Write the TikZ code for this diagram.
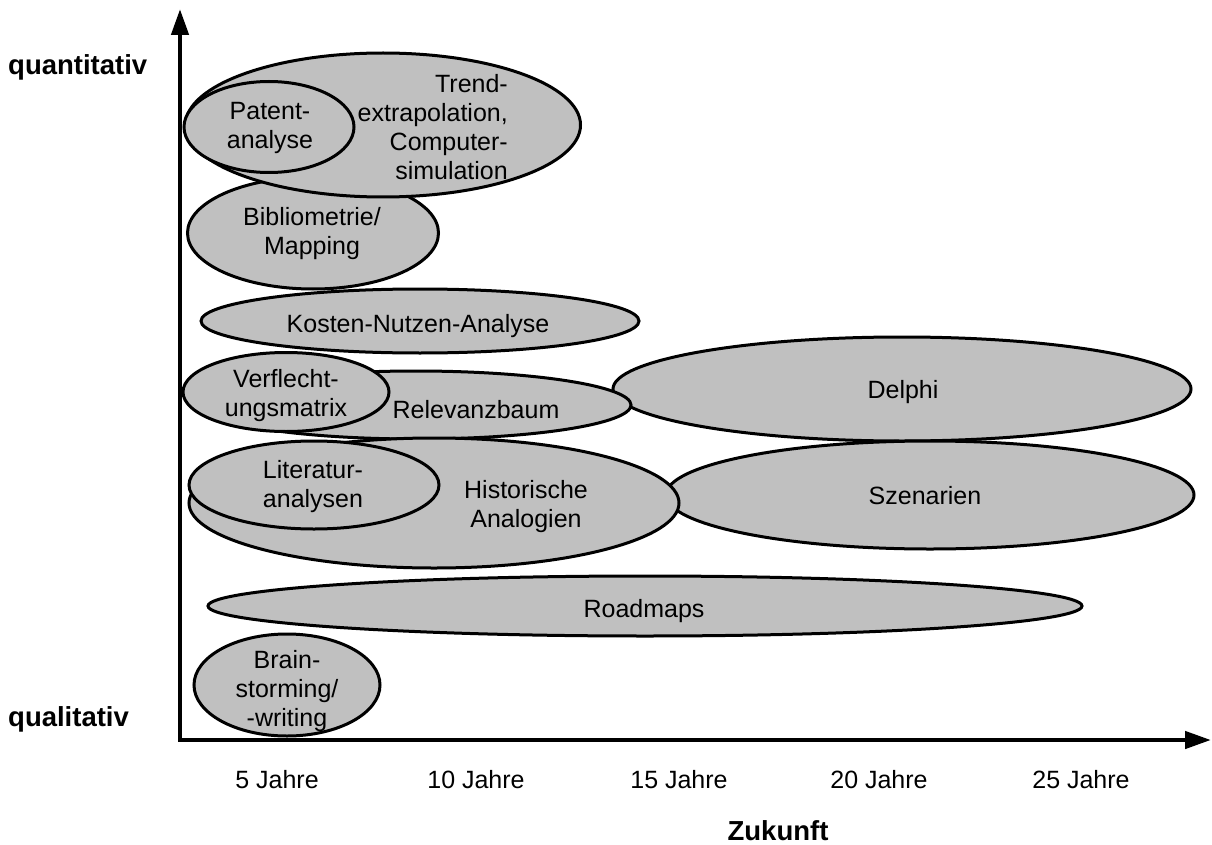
\documentclass[tikz,border=0pt]{standalone}
\usepackage{fontspec}
\setmainfont{Liberation Sans}
\usetikzlibrary{shapes.geometric,arrows.meta}
\definecolor{blobgray}{HTML}{C0C0C0}

\begin{document}
\begin{tikzpicture}[x=1pt,y=-1pt,
  blob/.style={ellipse, draw=black, line width=3pt, fill=blobgray, inner sep=0pt},
  lbl/.style={font=\fontsize{25}{29}\selectfont, align=center, inner sep=0pt},
  axislabel/.style={font=\fontsize{27.5}{32}\selectfont\bfseries, inner sep=0pt},
  axisline/.style={line width=4.5pt, {Triangle[length=26pt,width=17pt]}-{Triangle[length=26pt,width=17pt]}}
]
\useasboundingbox (0,0) rectangle (1212,845);

% axes
\coordinate (ytip) at (180,9);
\coordinate (origin) at (180,740);
\coordinate (xtip) at (1211,740);
\draw[axisline] (ytip) -- (origin) -- (xtip);

% method ellipses (back to front)
\node[blob, minimum width=578pt, minimum height=104pt] (delphi) at (902,389) {};
\node[blob, minimum width=528pt, minimum height=108pt] (szen) at (930,495) {};
\node[blob, minimum width=874pt, minimum height=60pt] (road) at (645,606) {};
\node[blob, minimum width=186pt, minimum height=102pt] (brain) at (287,685) {};
\node[blob, minimum width=251pt, minimum height=112pt] (biblio) at (313,233) {};
\node[blob, minimum width=395pt, minimum height=144pt] (trend) at (383,125) {};
\node[blob, minimum width=170pt, minimum height=91pt] (patent) at (269,127) {};
\node[blob, minimum width=438pt, minimum height=64pt] (kosten) at (420,321) {};
\node[blob, minimum width=430pt, minimum height=68pt] (relev) at (416,405) {};
\node[blob, minimum width=206pt, minimum height=79pt] (verfl) at (286,392) {};
\node[blob, minimum width=490pt, minimum height=130pt] (hist) at (434,503) {};
\node[blob, minimum width=250pt, minimum height=88pt] (lit) at (314,485) {};

% texts
\node[lbl, align=right, anchor=east] (ttrend) at (508,127) {Trend-\\extrapolation,\\Computer-\\simulation};
\node[lbl] (tpatent) at (270,128) {Patent-\\analyse};
\node[lbl] (tbiblio) at (312,234) {Bibliometrie/\\Mapping};
\node[lbl, anchor=base] (tkosten) at (418,332) {Kosten-Nutzen-Analyse};
\node[lbl] (tverfl) at (286,396) {Verflecht-\\ungsmatrix};
\node[lbl, anchor=base] (trelev) at (476,418) {Relevanzbaum};
\node[lbl, anchor=base] (tdelphi) at (903,398) {Delphi};
\node[lbl] (tlit) at (313,487) {Literatur-\\analysen};
\node[lbl, anchor=base] (thist) at (526,527) {Historische\\Analogien};
\node[lbl, anchor=base] (tszen) at (925,504) {Szenarien};
\node[lbl, anchor=base] (troad) at (644,617) {Roadmaps};
\node[lbl] (tbrain) at (287,691) {Brain-\\storming/\\-writing};

% axis labels
\node[axislabel, anchor=base west] (quant) at (8,75) {quantitativ};
\node[axislabel, anchor=base west] (qual) at (8,726) {qualitativ};
\node[axislabel, anchor=base] (zuk) at (778,840) {Zukunft};
\foreach \n/\xx in {5/277,10/476,15/679,20/879,25/1081}
  \node[lbl, anchor=base] (j\n) at (\xx,788) {\n~Jahre};
\end{tikzpicture}
\end{document}
